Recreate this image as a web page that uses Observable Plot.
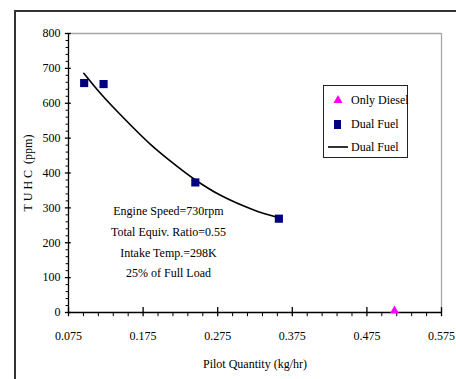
<!DOCTYPE html>
<html>
<head>
<meta charset="utf-8">
<script src="https://cdn.jsdelivr.net/npm/d3@7"></script>
<script src="https://cdn.jsdelivr.net/npm/@observablehq/plot@0.6"></script>
<style>
  html, body { margin: 0; padding: 0; background: #fff; }
  #wrap { position: relative; width: 456px; height: 379px; overflow: hidden; }
  #outer { position: absolute; left: 14px; top: 10px; width: 460px; height: 400px;
           border-top: 2px solid #333; border-left: 2px solid #333; }
  #chart { position: absolute; left: 0; top: 0; }
  #chart svg, #chart svg text { font-family: "Liberation Serif", "DejaVu Serif", serif !important; }
  #legend { position: absolute; left: 323px; top: 85px; width: 83px; height: 71px;
            border: 1px solid #222; background: #fff; font-family: "Liberation Serif", "DejaVu Serif", serif;
            font-size: 12px; color: #000; }
  .row { position: absolute; left: 0; height: 16px; line-height: 16px; white-space: nowrap; }
  .row svg { position: absolute; left: 0; top: 0; }
  .row span { position: absolute; left: 27px; top: 0; }
</style>
</head>
<body>
<div id="wrap">
  <div id="outer"></div>
  <div id="chart"></div>
  <div id="legend"></div>
</div>
<script>
// Data
const dieselX = [0.512];
const dieselY = [5];
const dualX = [0.096, 0.122, 0.245, 0.357];
const dualY = [658, 655, 373, 269];
const fitX = [0.0955, 0.118, 0.1447, 0.1849, 0.2117, 0.2452, 0.2788, 0.3234, 0.3548];
const fitY = [686, 628, 567, 482, 434, 380, 336, 294, 273];
const xTicks = [0.075, 0.175, 0.275, 0.375, 0.475, 0.575];
const yTicks = [0, 100, 200, 300, 400, 500, 600, 700, 800];
const notes = ["Engine Speed=730rpm", "Total Equiv. Ratio=0.55", "Intake Temp.=298K", "25% of Full Load"];
const noteY = [290, 230, 171, 113];
const legendLabels = ["Only Diesel", "Dual Fuel", "Dual Fuel"];

const diesel = dieselX.map((x, i) => ({x, y: dieselY[i]}));
const dual = dualX.map((x, i) => ({x, y: dualY[i]}));
const fit = fitX.map((x, i) => ({x, y: fitY[i]}));
const xMinor = d3.range(0.075, 0.5751, 0.02).filter(v => !xTicks.some(t => Math.abs(t - v) < 1e-6));
const yMinor = d3.range(0, 801, 20).filter(v => v % 100 !== 0);
const noteData = notes.map((t, i) => ({t, y: noteY[i]}));

const serif = '"Liberation Serif", "DejaVu Serif", serif';

const chart = Plot.plot({
  width: 456,
  height: 379,
  marginLeft: 68,
  marginRight: 15,
  marginTop: 33,
  marginBottom: 67,
  style: {fontFamily: serif, fontSize: "12px", background: "transparent", color: "#000"},
  x: {domain: [0.075, 0.575]},
  y: {domain: [0, 800]},
  marks: [
    Plot.ruleY([800], {stroke: "#a8a8a8", strokeWidth: 1.3}),
    Plot.ruleX([0.575], {stroke: "#a8a8a8", strokeWidth: 1.3}),
    Plot.axisX({ticks: xTicks, tickSize: 0, tickPadding: 19, tickFormat: d3.format(".3f"), fontSize: 12,
      label: "Pilot Quantity (kg/hr)", labelAnchor: "center", labelOffset: 55, labelArrow: "none"}),
    Plot.axisY({ticks: yTicks, tickSize: 0, tickPadding: 8, fontSize: 12,
      label: "T U H C  (ppm)", labelAnchor: "center", labelOffset: 45, labelArrow: "none"}),
    Plot.ruleX([0.075], {stroke: "#000", strokeWidth: 1.3}),
    Plot.ruleY([0], {stroke: "#000", strokeWidth: 1.3}),
    Plot.ruleX(xTicks, {y1: -12, y2: 14, stroke: "#000", strokeWidth: 1.3}),
    Plot.ruleX(xMinor, {y1: -12, y2: 0, stroke: "#000", strokeWidth: 1}),
    Plot.ruleY(yTicks, {x1: 0.0708, x2: 0.0788, stroke: "#000", strokeWidth: 1.3}),
    Plot.ruleY(yMinor, {x1: 0.0718, x2: 0.075, stroke: "#000", strokeWidth: 1}),
    Plot.line(fit, {x: "x", y: "y", curve: "catmull-rom", stroke: "#000", strokeWidth: 1.6}),
    Plot.dot(dual, {x: "x", y: "y", symbol: "square", r: 4.6, fill: "#000080", stroke: "none"}),
    Plot.dot(diesel, {x: "x", y: "y", symbol: "triangle", r: 3.3, fill: "#ff00ff", stroke: "none"}),
    Plot.text(noteData, {x: () => 0.209, y: "y", text: "t", fontSize: 12, fill: "#000"})
  ]
});
document.getElementById("chart").appendChild(chart);

// Legend
const lg = document.getElementById("legend");
const symbols = [
  '<svg width="26" height="16"><path d="M14,3 L18.5,11 L9.5,11 Z" fill="#ff00ff"/></svg>',
  '<svg width="26" height="16"><rect x="10" y="4" width="7" height="9" fill="#000080"/></svg>',
  '<svg width="26" height="16"><line x1="4" x2="24" y1="8" y2="8" stroke="#000" stroke-width="1.6"/></svg>'
];
const rowTops = [6, 30, 53];
legendLabels.forEach((t, i) => {
  const r = document.createElement("div");
  r.className = "row";
  r.style.top = rowTops[i] + "px";
  r.innerHTML = symbols[i] + "<span>" + t + "</span>";
  lg.appendChild(r);
});
</script>
</body>
</html>
